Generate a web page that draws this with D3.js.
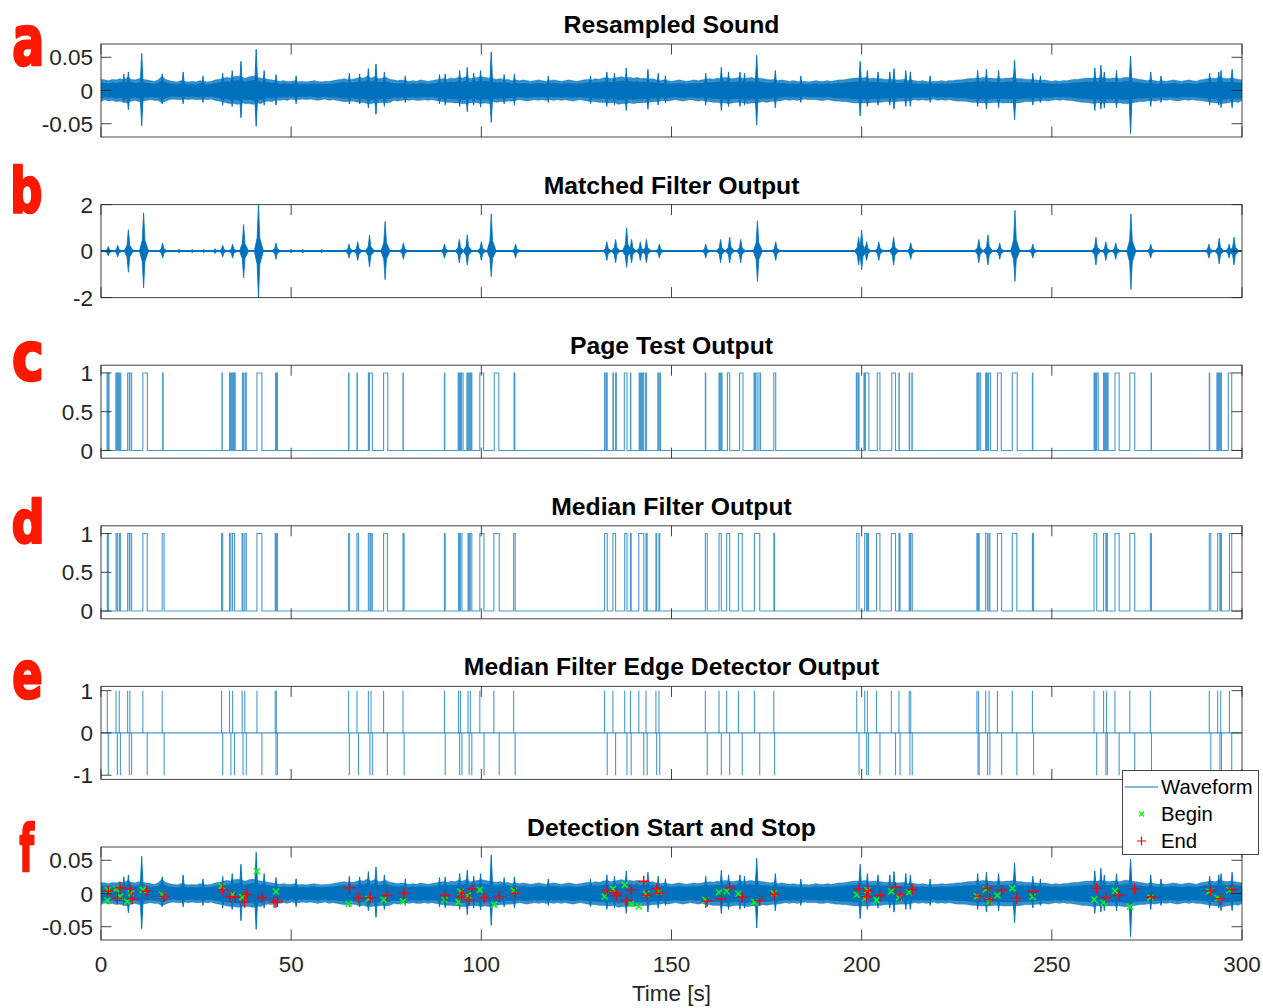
<!DOCTYPE html>
<html>
<head>
<meta charset="utf-8">
<script src="https://cdn.jsdelivr.net/npm/d3@7"></script>
<style>
  body { margin: 0; background: #fff; }
  svg { display: block; }
</style>
</head>
<body>
<svg id="chart" width="1263" height="1008"></svg>
<script>
// ---------- data ----------
const timeTicks = [0, 50, 100, 150, 200, 250, 300];
const panelTitles = ["Resampled Sound", "Matched Filter Output", "Page Test Output",
  "Median Filter Output", "Median Filter Edge Detector Output", "Detection Start and Stop"];
const panelLetters = ["a", "b", "c", "d", "e", "f"];
const soundTicks = [-0.05, 0, 0.05];
const matchedTicks = [-2, 0, 2];
const binaryTicks = [0, 0.5, 1];
const edgeTicks = [-1, 0, 1];
const legendLabels = ["Waveform", "Begin", "End"];

// Sound envelope, one value per second (t = 0..300), in thousandths
const soundUpper = [
  17,16,15,17,16,18,16,20,17,16, 18,17,16,15,14,16,22,17,15,14,
  13,15,14,13,14,13,15,14,13,14, 16,17,18,20,19,21,22,20,19,21,
  22,20,19,18,17,16,15,14,15,14, 14,15,13,14,13,14,15,14,13,14,
  14,15,16,17,18,16,17,18,20,19, 22,19,21,18,19,20,17,16,15,16,
  15,14,15,14,16,15,14,15,16,17, 18,17,19,18,20,19,21,18,19,20,
  21,20,19,18,17,18,16,17,15,16, 15,16,15,14,15,16,15,14,15,16,
  15,14,15,16,15,14,15,16,17,16, 18,17,19,20,18,19,20,21,19,20,
  19,20,18,19,17,18,16,15,16,15, 14,15,16,15,14,15,16,15,16,17,
  18,17,19,18,20,19,18,19,20,18, 19,20,18,19,18,17,16,17,15,16,
  15,14,15,14,13,14,13,14,15,14, 14,15,14,15,16,16,17,18,19,19,
  19,20,18,19,18,18,17,17,17,16, 16,17,15,16,15,14,15,14,13,14,
  14,15,14,15,15,16,16,17,18,18, 19,19,20,19,19,18,19,18,19,19,
  20,18,18,17,17,16,16,15,16,15, 14,15,14,15,15,16,17,17,18,19,
  19,19,19,20,19,18,19,19,18,20, 20,19,18,17,16,15,16,15,14,15,
  14,15,16,15,14,15,16,15,14,16, 17,18,19,18,20,19,18,19,18,17,
  16];
const soundLower = [
  17,14,16,15,17,16,18,19,16,15, 17,16,15,14,15,15,19,16,14,13,
  14,14,13,14,13,14,14,13,14,13, 15,16,17,19,20,20,21,19,20,20,
  21,19,20,17,16,17,14,15,14,15, 13,14,14,13,14,13,14,15,14,13,
  15,14,15,16,17,17,16,17,19,18, 20,20,19,19,18,19,18,15,16,15,
  14,15,14,15,15,14,15,14,15,16, 17,18,18,19,19,20,20,19,18,19,
  20,19,20,17,18,17,17,16,16,15, 14,15,16,15,14,15,14,15,14,15,
  14,15,14,15,16,15,14,15,16,17, 17,18,18,19,19,18,21,20,20,19,
  20,19,19,18,18,17,17,16,15,16, 15,14,15,16,15,14,15,16,15,16,
  17,18,18,19,19,20,19,18,18,19, 20,19,19,18,17,18,17,16,16,15,
  14,15,14,15,14,13,14,14,14,15, 15,14,15,16,16,17,17,18,19,19,
  19,19,19,18,18,18,17,17,17,17, 16,16,16,15,14,15,14,15,14,13,
  15,14,15,14,15,16,16,16,17,18, 18,19,19,19,19,18,18,19,19,19,
  19,19,18,17,17,17,16,16,15,16, 15,14,15,14,15,15,16,17,18,18,
  19,20,19,19,19,19,19,19,19,20, 20,19,18,17,17,16,15,16,15,14,
  15,14,15,16,15,14,15,14,15,15, 16,17,18,19,19,20,19,18,17,18,
  15];
// Clicks in the sound: [time s, peak, trough] in thousandths
const soundSpikes = [
  [6.0,25,-18],[7.2,28,-29],[10.7,56,-53],[16.1,25,-20],[21.6,28,-20],[26.8,22,-18],[32.0,26,-22],
  [34.5,30,-24],[36.8,44,-41],[40.8,62,-54],[42.9,30,-22],[46.0,24,-22],[51.3,22,-20],[65.3,26,-20],
  [68.0,25,-20],[70.3,33,-26],[72.3,40,-36],[74.5,28,-24],[80.0,22,-18],[89.0,24,-20],[90.5,25,-22],
  [94.3,30,-24],[96.3,35,-32],[98.0,26,-22],[99.8,30,-25],[102.6,58,-48],[106.0,24,-20],[108.7,25,-22],
  [117.6,22,-18],[128.7,22,-20],[133.0,28,-24],[135.0,26,-22],[138.1,34,-30],[143.8,32,-28],
  [146.5,26,-22],[148.4,22,-18],[159.0,26,-22],[163.1,35,-30],[165.0,28,-24],[168.0,28,-24],
  [169.2,26,-22],[172.4,53,-52],[177.3,30,-26],[184.0,22,-18],[199.6,44,-38],[201.5,30,-24],
  [204.3,28,-22],[207.4,28,-22],[208.5,33,-28],[211.6,30,-24],[212.8,28,-24],[218.0,22,-18],
  [230.5,30,-24],[232.8,32,-28],[236.0,30,-26],[240.2,46,-44],[245.0,26,-22],[247.0,22,-18],
  [261.3,34,-30],[262.9,38,-28],[263.8,28,-26],[267.0,30,-26],[270.7,52,-65],[276.0,28,-24],
  [278.7,22,-18],[291.5,26,-22],[293.9,28,-22],[294.5,30,-26],[297.4,32,-26]
];

// Matched filter bursts: [time s, peak, trough]
const matchedBursts = [
  [1.9,0.2,-0.2],[4.4,0.25,-0.25],[7.2,0.92,-0.91],[11.2,1.65,-1.58],[16.2,0.35,-0.3],
  [20.5,0.08,-0.08],[24.0,0.07,-0.07],[27.0,0.07,-0.07],[30.0,0.1,-0.1],[32.0,0.25,-0.25],
  [34.6,0.3,-0.3],[37.5,1.14,-1.15],[41.4,2.0,-2.0],[46.0,0.35,-0.35],[50.0,0.08,-0.08],
  [53.0,0.08,-0.08],[58.0,0.07,-0.07],[65.2,0.3,-0.3],[67.5,0.4,-0.4],[70.6,0.68,-0.68],
  [74.7,1.27,-1.23],[79.5,0.35,-0.35],[90.3,0.3,-0.3],[94.2,0.5,-0.5],[96.3,0.7,-0.6],
  [100.0,0.4,-0.4],[102.6,1.6,-1.1],[109.0,0.3,-0.3],[133.0,0.4,-0.4],[135.3,0.5,-0.5],
  [138.2,1.0,-0.7],[139.5,0.5,-0.5],[141.8,0.4,-0.4],[143.4,0.5,-0.5],[146.8,0.3,-0.3],
  [159.0,0.3,-0.3],[162.9,0.5,-0.5],[165.3,0.6,-0.5],[168.2,0.5,-0.5],[172.6,1.3,-1.3],
  [177.4,0.4,-0.4],[199.2,0.6,-0.6],[200.0,0.9,-0.8],[201.3,0.4,-0.4],[204.5,0.4,-0.4],
  [208.4,0.6,-0.6],[212.9,0.35,-0.35],[230.8,0.5,-0.5],[233.2,0.7,-0.6],[236.3,0.35,-0.35],
  [240.3,1.75,-1.3],[245.0,0.3,-0.3],[261.6,0.6,-0.6],[264.2,0.4,-0.4],[266.8,0.35,-0.35],
  [270.8,1.6,-1.65],[276.0,0.3,-0.3],[291.3,0.3,-0.3],[294.0,0.55,-0.55],[296.6,0.3,-0.3],
  [297.9,0.6,-0.6]
];

// Page test output: on / off times of each raised segment (s)
const pageOn = [1.6,1.95,3.9,4.1,4.3,4.5,4.8,5.0,7.0,7.6,11.0,16.2,31.8,33.8,34.0,34.2,34.6,34.9,35.1,
  37.2,37.9,41.0,45.9,46.2,65.1,67.3,70.3,70.6,74.3,79.4,90.3,93.9,94.1,94.3,94.5,94.8,
  96.2,96.7,97.1,97.4,99.6,103.4,108.6,
  132.4,132.9,134.6,135.3,137.6,139.2,141.5,141.9,142.4,143.2,146.4,146.9,158.9,
  162.5,163.0,164.7,167.9,171.7,172.1,173.0,176.9,
  198.6,199.1,200.6,201.0,204.1,207.9,209.8,212.5,213.2,230.3,230.5,230.7,230.9,
  232.6,232.8,233.1,233.4,235.7,239.6,244.9,261.1,261.3,261.5,261.8,263.6,263.8,264.2,264.5,
  266.6,270.5,276.1,291.4,293.4,293.6,293.8,294.0,294.3,296.4];
const pageOff = [1.7,2.1,4.0,4.2,4.4,4.6,4.9,5.2,7.45,8.05,12.2,16.35,31.9,33.9,34.1,34.4,34.7,35.0,35.3,
  37.5,38.2,42.3,46.0,46.4,65.2,67.4,70.45,71.35,75.4,79.5,90.4,94.0,94.2,94.4,94.6,95.2,
  96.4,96.8,97.2,97.5,100.6,104.6,108.8,
  132.55,133.1,134.75,135.5,138.3,139.3,141.7,142.1,142.7,143.4,146.55,147.1,159.0,
  162.7,163.3,165.3,168.8,171.9,172.5,173.4,177.4,
  198.75,199.3,200.8,201.9,204.8,208.9,209.9,212.6,213.3,230.4,230.6,230.8,231.3,
  232.7,233.0,233.2,233.9,236.7,240.9,245.0,261.2,261.4,261.6,262.2,263.7,264.0,264.3,264.8,
  267.7,271.8,276.2,291.5,293.5,293.7,293.9,294.1,294.6,297.3];

// Median filter output: on / off times of each detection (s)
const medianOn = [1.66,3.95,4.8,7.0,7.6,11.0,16.1,31.7,33.8,34.6,37.1,37.8,41.0,45.8,46.1,65.1,67.3,70.3,
  71.0,74.3,79.4,90.3,94.0,94.5,96.5,97.1,99.6,103.3,108.5,
  132.4,134.6,137.7,139.2,141.4,143.3,145.9,146.7,158.9,162.5,164.5,167.6,171.8,176.9,
  198.7,200.8,201.5,203.9,207.8,209.8,212.5,212.9,230.3,230.7,232.6,233.5,235.7,239.6,244.9,
  261.1,263.6,264.4,266.6,270.5,275.9,291.4,293.6,294.4,296.7];
const medianOff = [1.93,4.3,5.1,7.45,8.05,12.15,16.6,32.0,34.15,35.1,37.35,38.2,42.3,46.0,46.4,65.3,67.7,70.7,
  71.35,75.3,79.7,90.5,94.3,94.9,96.8,97.5,100.7,104.7,108.9,
  133.1,135.3,138.3,139.4,142.7,143.6,146.1,146.9,159.4,163.1,165.3,168.6,173.2,177.1,
  199.3,201.3,201.8,204.8,208.9,210.1,212.7,213.3,230.6,230.9,233.1,233.7,236.8,240.8,245.2,
  261.8,264.2,264.6,267.7,271.8,276.2,291.8,294.2,294.6,297.3];

// Detection markers on the waveform: time (s) and value (thousandths)
const beginT = [1.66,1.8,3.95,5.0,6.9,7.8,11.0,16.1,31.7,34.6,37.2,41.0,46.0,65.1,70.3,74.3,79.4,
  90.3,94.0,94.5,96.5,99.6,103.3,108.5,132.4,134.6,137.7,139.4,141.4,143.3,146.7,158.9,162.5,164.5,
  167.6,171.8,176.9,198.7,200.8,201.5,203.9,207.8,209.8,212.5,230.3,232.6,233.5,235.7,239.6,244.9,
  261.1,263.6,266.6,270.5,275.9,291.4,293.6,296.7];
const beginV = [-10.5,5.5,7,-4.5,-12,0.5,5.5,-2,11,-1.5,-5.5,33.6,3,-15.5,-8,-9.5,-12,
  -9.5,-13,3,-3,5.5,-17,4.5,-4.5,7,13,-15.5,-19.6,-0.5,3,-9.5,2,3.5,
  -0.5,-13,0.5,-2,-8,5,-10,3,-6,2,-4,6,-12,-3,8,-5,
  -9,-14,4,-20,-6,3,-7,5];
const endT = [1.93,4.3,5.0,7.6,8.2,12.0,16.6,32.0,33.9,35.3,37.7,38.3,42.3,45.5,46.4,65.3,67.7,70.8,
  75.2,79.7,90.5,94.7,94.9,96.8,97.5,100.8,104.7,108.9,133.1,135.3,135.5,138.3,139.4,142.7,143.6,
  146.1,146.9,159.4,163.1,165.3,168.6,173.2,177.1,199.3,201.3,201.8,204.8,208.9,210.1,213.3,
  230.9,233.1,233.7,236.8,240.8,245.2,261.8,264.2,267.7,271.8,276.2,291.8,294.2,297.3];
const endV = [3.5,-7,8.6,7,-8,3.5,-4.5,5.5,-4.5,-5.5,-13,-1.5,-6.5,-13,-12,8.6,-6.5,-6.5,
  -3,0.5,-3,-5.5,0.5,-9.5,7,-6.5,-4.5,0.5,4.5,0.5,-3,-10.5,5.5,18.5,-3,
  7,0.5,-11.5,-8,8.6,-5.5,-10.5,-1.5,7,-5,4,-3,9,-2,6,
  -4,8,-9,5,-7,3,8,-6,-3,7,-5,4,-8,6];

// ---------- layout ----------
const plotLeft = 101, plotRight = 1242, panelH = 93;
const panelTops = [44, 204.6, 365.2, 525.8, 686.4, 847];
const blue = "#0072BD", axisColor = "#262626", letterRed = "#fd1800";
const tickFont = 22.5, titleFont = 24.75, legendFont = 20.3;
const fontFamily = "'Liberation Sans', Arial, Helvetica, sans-serif";

const svg = d3.select("#chart");
const x = d3.scaleLinear().domain([0, 300]).range([plotLeft, plotRight]);

// plain hyphen for negatives
const fmtSound = d => d === 0 ? "0" : (d < 0 ? "-" : "") + Math.abs(d).toFixed(2);
const fmtPlain = d => (d < 0 ? "-" : "") + String(Math.abs(d));

const panels = [
  { domain: [-0.07, 0.07], ticks: soundTicks, fmt: fmtSound },
  { domain: [-2, 2], ticks: matchedTicks, fmt: fmtPlain },
  { domain: [-0.1, 1.1], ticks: binaryTicks, fmt: fmtPlain },
  { domain: [-0.1, 1.1], ticks: binaryTicks, fmt: fmtPlain },
  { domain: [-1.1, 1.1], ticks: edgeTicks, fmt: fmtPlain },
  { domain: [-0.07, 0.07], ticks: soundTicks, fmt: fmtSound }
];

const defs = svg.append("defs");
panels.forEach((p, i) => {
  p.top = panelTops[i];
  p.y = d3.scaleLinear().domain(p.domain).range([p.top + panelH, p.top]);
  defs.append("clipPath").attr("id", "clip" + i)
    .append("rect").attr("x", plotLeft).attr("y", p.top)
    .attr("width", plotRight - plotLeft).attr("height", panelH);
  p.g = svg.append("g");
  p.plot = p.g.append("g").attr("clip-path", `url(#clip${i})`);
});

// ---------- waveform (panels a and f) ----------
const secs = d3.range(soundUpper.length);
const coreShare = 0.7;   // dense centre of the trace vs. its sparser fringe
function drawSound(p) {
  const outer = d3.area()
    .x(t => x(t))
    .y0(t => p.y(-soundLower[t] / 1000))
    .y1(t => p.y(soundUpper[t] / 1000));
  const inner = d3.area()
    .x(t => x(t))
    .y0(t => p.y(-coreShare * soundLower[t] / 1000))
    .y1(t => p.y(coreShare * soundUpper[t] / 1000));
  p.plot.append("path").attr("d", outer(secs)).attr("fill", blue).attr("fill-opacity", 0.8)
    .attr("stroke", blue).attr("stroke-opacity", 0.3).attr("stroke-width", 0.8);
  p.plot.append("path").attr("d", inner(secs)).attr("fill", blue);
  p.plot.selectAll("path.spike").data(soundSpikes).join("path")
    .attr("class", "spike")
    .attr("d", d => {
      const [t, hi, lo] = d;
      return `M${x(t - 0.45)},${p.y(0)} L${x(t)},${p.y(hi / 1000)} L${x(t + 0.45)},${p.y(0)} L${x(t)},${p.y(lo / 1000)} Z`;
    })
    .attr("fill", blue).attr("stroke", blue).attr("stroke-width", 0.9)
    .attr("stroke-linejoin", "miter");
}
drawSound(panels[0]);
drawSound(panels[5]);

// ---------- matched filter output (panel b) ----------
{
  const p = panels[1];
  p.plot.append("line")
    .attr("x1", x(0)).attr("x2", x(300)).attr("y1", p.y(0)).attr("y2", p.y(0))
    .attr("stroke", blue).attr("stroke-width", 2);
  p.plot.selectAll("path.burst").data(matchedBursts).join("path")
    .attr("class", "burst")
    .attr("d", d => {
      const [t, hi, lo] = d;
      return `M${x(t - 1.1)},${p.y(0)} L${x(t - 0.35)},${p.y(hi * 0.28)} L${x(t)},${p.y(hi)} ` +
        `L${x(t + 0.35)},${p.y(hi * 0.28)} L${x(t + 1.3)},${p.y(0)} ` +
        `L${x(t + 0.35)},${p.y(lo * 0.28)} L${x(t)},${p.y(lo)} L${x(t - 0.35)},${p.y(lo * 0.28)} Z`;
    })
    .attr("fill", blue).attr("stroke", blue).attr("stroke-width", 0.8);
}

// ---------- binary pulse trains (panels c and d) ----------
function pulseLine(p, on, off) {
  const pts = [[0, 0]];
  on.forEach((s, k) => { pts.push([s, 0], [s, 1], [off[k], 1], [off[k], 0]); });
  pts.push([300, 0]);
  const line = d3.line().x(d => x(d[0])).y(d => p.y(d[1]));
  p.plot.append("path").attr("d", line(pts))
    .attr("fill", "none").attr("stroke", blue).attr("stroke-width", 1.1)
    .attr("stroke-opacity", 0.72);
}
pulseLine(panels[2], pageOn, pageOff);
pulseLine(panels[3], medianOn, medianOff);

// ---------- edge detector (panel e): +1 on each rise, -1 on each fall ----------
{
  const p = panels[4];
  p.plot.append("line")
    .attr("x1", x(0)).attr("x2", x(300)).attr("y1", p.y(0)).attr("y2", p.y(0))
    .attr("stroke", blue).attr("stroke-width", 1.1).attr("stroke-opacity", 0.72);
  const edges = medianOn.map(t => [t, 1]).concat(medianOff.map(t => [t, -1]));
  p.plot.selectAll("line.edge").data(edges).join("line")
    .attr("class", "edge")
    .attr("x1", d => x(d[0])).attr("x2", d => x(d[0]))
    .attr("y1", p.y(0)).attr("y2", d => p.y(d[1]))
    .attr("stroke", blue).attr("stroke-width", 1.1).attr("stroke-opacity", 0.72);
}

// ---------- start / stop markers (panel f) ----------
function crossMark(sel, cx, cy, r) {
  return sel.append("path").attr("d", `M${cx - r},${cy - r}L${cx + r},${cy + r}M${cx - r},${cy + r}L${cx + r},${cy - r}`);
}
function plusMark(sel, cx, cy, r) {
  return sel.append("path").attr("d", `M${cx - r},${cy}L${cx + r},${cy}M${cx},${cy - r}L${cx},${cy + r}`);
}
{
  const p = panels[5];
  const mk = p.g.append("g").attr("clip-path", "url(#clip5)");
  beginT.forEach((t, k) => {
    crossMark(mk, x(t), p.y(beginV[k] / 1000), 3).attr("stroke", "#00ff00").attr("stroke-width", 1.5).attr("fill", "none");
  });
  endT.forEach((t, k) => {
    plusMark(mk, x(t), p.y(endV[k] / 1000), 5.5).attr("stroke", "#ff0000").attr("stroke-width", 1.4).attr("fill", "none");
  });
}

// ---------- axes, ticks, titles ----------
const tickLen = 10.5;
panels.forEach((p, i) => {
  const g = p.g;
  const top = p.top, bot = p.top + panelH;
  g.append("rect").attr("x", plotLeft).attr("y", top)
    .attr("width", plotRight - plotLeft).attr("height", panelH)
    .attr("fill", "none").attr("stroke", axisColor).attr("stroke-width", 1).attr("stroke-opacity", 0.85);
  timeTicks.forEach(t => {
    g.append("line").attr("x1", x(t)).attr("x2", x(t)).attr("y1", top).attr("y2", top + tickLen)
      .attr("stroke", axisColor).attr("stroke-opacity", 0.85);
    g.append("line").attr("x1", x(t)).attr("x2", x(t)).attr("y1", bot).attr("y2", bot - tickLen)
      .attr("stroke", axisColor).attr("stroke-opacity", 0.85);
  });
  p.ticks.forEach(v => {
    const yy = p.y(v);
    g.append("line").attr("x1", plotLeft).attr("x2", plotLeft + tickLen).attr("y1", yy).attr("y2", yy)
      .attr("stroke", axisColor).attr("stroke-opacity", 0.85);
    g.append("line").attr("x1", plotRight).attr("x2", plotRight - tickLen).attr("y1", yy).attr("y2", yy)
      .attr("stroke", axisColor).attr("stroke-opacity", 0.85);
    g.append("text").attr("x", plotLeft - 8).attr("y", yy).attr("dy", "0.36em")
      .attr("text-anchor", "end").attr("font-family", fontFamily).attr("font-size", tickFont)
      .attr("fill", axisColor).text(p.fmt(v));
  });
  g.append("text").attr("x", (plotLeft + plotRight) / 2).attr("y", top - 11)
    .attr("text-anchor", "middle").attr("font-family", fontFamily).attr("font-size", titleFont)
    .attr("font-weight", "bold").attr("fill", "#000").text(panelTitles[i]);
});

timeTicks.forEach(t => {
  svg.append("text").attr("x", x(t)).attr("y", 972).attr("text-anchor", "middle")
    .attr("font-family", fontFamily).attr("font-size", tickFont).attr("fill", axisColor).text(t);
});
svg.append("text").attr("x", (plotLeft + plotRight) / 2).attr("y", 1001).attr("text-anchor", "middle")
  .attr("font-family", fontFamily).attr("font-size", tickFont).attr("fill", axisColor).text("Time [s]");

// ---------- legend ----------
{
  const lg = svg.append("g");
  lg.append("rect").attr("x", 1122.5).attr("y", 770.5).attr("width", 136).attr("height", 84)
    .attr("fill", "#fff").attr("stroke", axisColor).attr("stroke-width", 1).attr("stroke-opacity", 0.85);
  const rows = [787, 814, 841];
  lg.append("line").attr("x1", 1125).attr("x2", 1158).attr("y1", rows[0]).attr("y2", rows[0])
    .attr("stroke", blue).attr("stroke-width", 1);
  crossMark(lg, 1141.5, rows[1], 2.5).attr("stroke", "#00ff00").attr("stroke-width", 1.3).attr("fill", "none");
  plusMark(lg, 1141.5, rows[2], 4.5).attr("stroke", "#ff0000").attr("stroke-width", 1.2).attr("fill", "none");
  legendLabels.forEach((s, k) => {
    lg.append("text").attr("x", 1161).attr("y", rows[k]).attr("dy", "0.36em")
      .attr("font-family", fontFamily).attr("font-size", legendFont).attr("fill", "#000").text(s);
  });
}

// ---------- panel letters (heavy condensed red) ----------
const letterBoxes = [
  { x: 12.5, y: 22.5, w: 29.5, h: 44.5 },
  { x: 12.5, y: 163.5, w: 29.5, h: 51.5 },
  { x: 12.5, y: 340, w: 29.5, h: 42 },
  { x: 12.5, y: 496, w: 29.5, h: 49 },
  { x: 12.5, y: 659, w: 29.5, h: 41 },
  { x: 18.5, y: 821, w: 17, h: 51 }
];
const letterFont = "'DejaVu Sans Condensed', 'DejaVu Sans', sans-serif";
const letterStroke = 2.6;
const ctx = document.createElement("canvas").getContext("2d");
ctx.font = `bold 100px ${letterFont}`;
panelLetters.forEach((ch, i) => {
  const m = ctx.measureText(ch);
  const inkL = -m.actualBoundingBoxLeft, inkR = m.actualBoundingBoxRight;
  const inkT = -m.actualBoundingBoxAscent, inkB = m.actualBoundingBoxDescent;
  const fontAsc = m.fontBoundingBoxAscent || 93;
  const b = letterBoxes[i];
  const s2 = letterStroke / 2;
  const bx = b.x + s2, bw = b.w - letterStroke, bh = b.h - letterStroke;
  let sy = bh / (inkB - inkT);
  const baseY = b.y + b.h - s2 - inkB * sy;
  // keep the glyph's em box inside the canvas
  sy = Math.min(sy, (baseY - 1) / fontAsc);
  const sx = bw / (inkR - inkL);
  const fs = 100 * sy;
  svg.append("text")
    .attr("transform", `translate(${bx - inkL * sx},${baseY}) scale(${sx / sy},1)`)
    .attr("font-family", letterFont).attr("font-weight", "bold").attr("font-size", fs)
    .attr("fill", letterRed).attr("stroke", letterRed).attr("stroke-width", letterStroke)
    .attr("stroke-linejoin", "round").attr("paint-order", "stroke")
    .text(ch);
});
</script>
</body>
</html>
